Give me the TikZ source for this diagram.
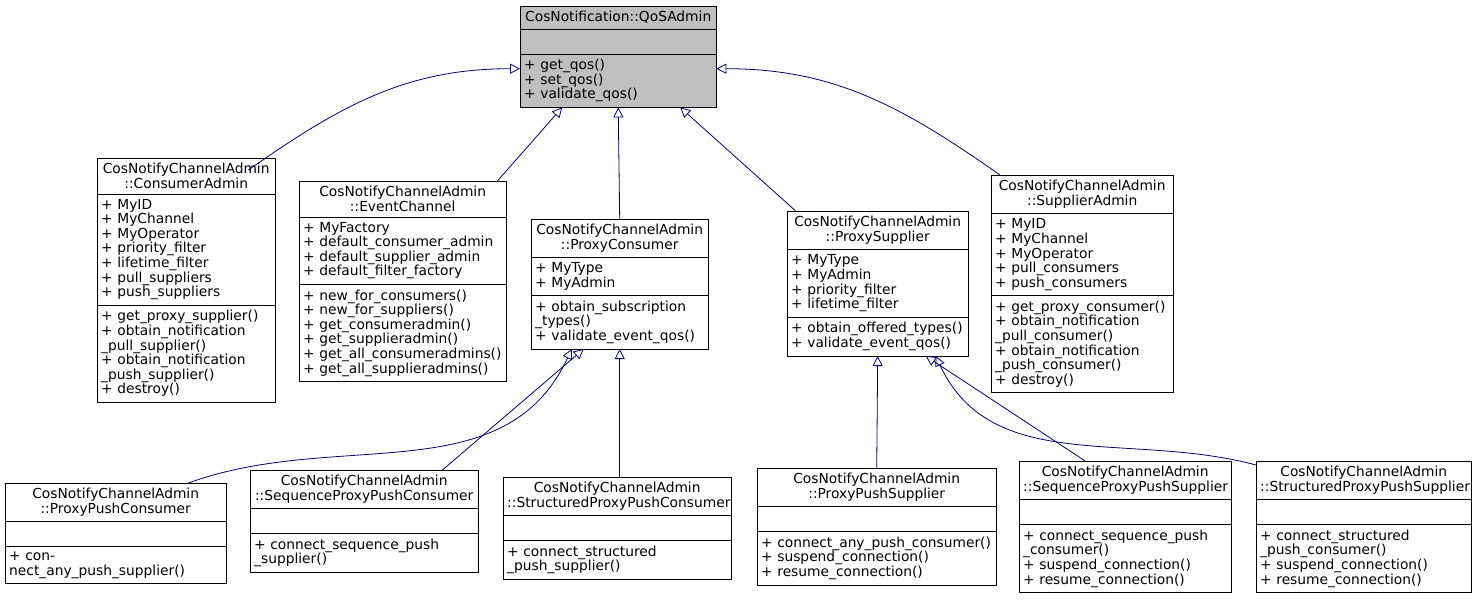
\documentclass[tikz,border=0pt]{standalone}
\usepackage{fontspec}
\setmainfont{DejaVu Sans}
\usetikzlibrary{arrows.meta,shapes.multipart}

\tikzset{
	cls/.style={rectangle split, rectangle split parts=3, draw=black, fill=white,
		rectangle split ignore empty parts=false, anchor=north west, align=left,
		inner xsep=4pt, inner ysep=5pt, font=\fontsize{13.8}{14.6}\selectfont},
	base/.style={cls, fill=black!25},
	inh/.style={draw=blue!30!black!80!blue, line width=0.8pt, -{Triangle[open,length=10pt,width=10pt]}}
}
\newcommand{\ctitle}[1]{{\centering #1\par}}

\begin{document}
\begin{tikzpicture}[x=1pt, y=-1pt]
	\useasboundingbox (0,0) rectangle (1477,603);
	% Base class
	\node [base, text width=188pt] (qos) at (520,6) {\ctitle{CosNotification::QoSAdmin}
		\nodepart{two}\strut
		\nodepart{three}+ get\_qos()\\+ set\_qos()\\+ validate\_qos()};

	% Derived classes {first row}
	\node [cls, text width=170pt] (ca) at (97,158) {\ctitle{CosNotifyChannelAdmin\\::ConsumerAdmin}
		\nodepart{two}+ MyID\\+ MyChannel\\+ MyOperator\\+ priority\_filter\\+ lifetime\_filter\\+ pull\_suppliers\\+ push\_suppliers
		\nodepart{three}+ get\_proxy\_supplier()\\+ obtain\_notification\\\_pull\_supplier()\\+ obtain\_notification\\\_push\_supplier()\\+ destroy()};
	\node [cls, text width=199pt] (ec) at (299,181) {\ctitle{CosNotifyChannelAdmin\\::EventChannel}
		\nodepart{two}+ MyFactory\\+ default\_consumer\_admin\\+ default\_supplier\_admin\\+ default\_filter\_factory
		\nodepart{three}+ new\_for\_consumers()\\+ new\_for\_suppliers()\\+ get\_consumeradmin()\\+ get\_supplieradmin()\\+ get\_all\_consumeradmins()\\+ get\_all\_supplieradmins()};
	\node [cls, text width=169pt] (pc) at (531,219) {\ctitle{CosNotifyChannelAdmin\\::ProxyConsumer}
		\nodepart{two}+ MyType\\+ MyAdmin
		\nodepart{three}+ obtain\_subscription\\\_types()\\+ validate\_event\_qos()};
	\node [cls, text width=173pt] (ps) at (787,211) {\ctitle{CosNotifyChannelAdmin\\::ProxySupplier}
		\nodepart{two}+ MyType\\+ MyAdmin\\+ priority\_filter\\+ lifetime\_filter
		\nodepart{three}+ obtain\_offered\_types()\\+ validate\_event\_qos()};
	\node [cls, text width=174pt] (sa) at (991,175) {\ctitle{CosNotifyChannelAdmin\\::SupplierAdmin}
		\nodepart{two}+ MyID\\+ MyChannel\\+ MyOperator\\+ pull\_consumers\\+ push\_consumers
		\nodepart{three}+ get\_proxy\_consumer()\\+ obtain\_notification\\\_pull\_consumer()\\+ obtain\_notification\\\_push\_consumer()\\+ destroy()};

	% Derived classes {second row}
	\node [cls, text width=213pt] (ppc) at (5,483) {\ctitle{CosNotifyChannelAdmin\\::ProxyPushConsumer}
		\nodepart{two}\strut
		\nodepart{three}+ connect\_any\_push\_supplier()};
	\node [cls, text width=220pt] (spc) at (250,470) {\ctitle{CosNotifyChannelAdmin\\::SequenceProxyPushConsumer}
		\nodepart{two}\strut
		\nodepart{three}+ connect\_sequence\_push\\\_supplier()};
	\node [cls, text width=220pt] (stpc) at (503,477) {\ctitle{CosNotifyChannelAdmin\\::StructuredProxyPushConsumer}
		\nodepart{two}\strut
		\nodepart{three}+ connect\_structured\\\_push\_supplier()};
	\node [cls, text width=231pt] (pps) at (757,468) {\ctitle{CosNotifyChannelAdmin\\::ProxyPushSupplier}
		\nodepart{two}\strut
		\nodepart{three}+ connect\_any\_push\_consumer()\\+ suspend\_connection()\\+ resume\_connection()};
	\node [cls, text width=204pt] (sps) at (1019,461) {\ctitle{CosNotifyChannelAdmin\\::SequenceProxyPushSupplier}
		\nodepart{two}\strut
		\nodepart{three}+ connect\_sequence\_push\\\_consumer()\\+ suspend\_connection()\\+ resume\_connection()};
	\node [cls, text width=207pt] (stps) at (1256,461) {\ctitle{CosNotifyChannelAdmin\\::StructuredProxyPushSupplier}
		\nodepart{two}\strut
		\nodepart{three}+ connect\_structured\\\_push\_consumer()\\+ suspend\_connection()\\+ resume\_connection()};

	% Inheritance
	\draw [inh] ([xshift=-27pt,yshift=-12pt]ca.north east) to [out=35, in=180] ([yshift=-12pt]qos.west);
	\draw [inh] ([xshift=-9pt]ec.north east) -- ([xshift=-56pt]qos.south);
	\draw [inh] (pc.north) -- (qos.south);
	\draw [inh] ([xshift=-82pt]ps.north) -- ([xshift=62pt]qos.south);
	\draw [inh] ([xshift=9pt]sa.north west) to [out=145, in=0] ([yshift=-12pt]qos.east);
	\draw [inh] ([xshift=-38pt]ppc.north east) to [out=20, in=-115] ([xshift=-48pt]pc.south);
	\draw [inh] ([xshift=-36pt]spc.north east) -- ([xshift=-36pt]pc.south);
	\draw [inh] (stpc.north -| pc.south) -- (pc.south);
	\draw [inh] (pps.north) -- (ps.south);
	\draw [inh] ([xshift=-40pt]sps.north) -- ([xshift=48pt]ps.south);
	\draw [inh] ([yshift=-4pt]stps.north west) to [out=165, in=-65] ([xshift=58pt]ps.south);
\end{tikzpicture}
\end{document}
